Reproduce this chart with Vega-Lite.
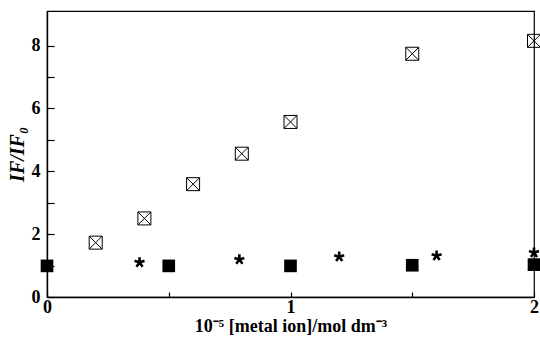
{
  "$schema": "https://vega.github.io/schema/vega-lite/v6.json",
  "autosize": "none",
  "padding": {"left": 47, "top": 11, "right": 6, "bottom": 40},
  "width": 487,
  "height": 286,
  "background": "white",
  "config": {
    "view": {"stroke": "black", "strokeWidth": 1.2},
    "axis": {
      "grid": false,
      "domainColor": "black",
      "domainWidth": 1.4,
      "tickColor": "black",
      "tickWidth": 1.2,
      "labelFont": "Liberation Serif",
      "labelFontWeight": "bold",
      "labelFontSize": 18,
      "labelColor": "black",
      "titleFont": "Liberation Serif",
      "titleFontWeight": "bold",
      "titleColor": "black"
    }
  },
  "data": {
    "values": [
      {"series": "A", "x": 0.2, "y": 1.73},
      {"series": "A", "x": 0.4, "y": 2.5},
      {"series": "A", "x": 0.6, "y": 3.59},
      {"series": "A", "x": 0.8, "y": 4.56},
      {"series": "A", "x": 1.0, "y": 5.57},
      {"series": "A", "x": 1.5, "y": 7.74},
      {"series": "A", "x": 2.0, "y": 8.15},
      {"series": "B", "x": 0.0, "y": 0.99},
      {"series": "B", "x": 0.5, "y": 0.99},
      {"series": "B", "x": 1.0, "y": 0.99},
      {"series": "B", "x": 1.5, "y": 1.01},
      {"series": "B", "x": 2.0, "y": 1.03},
      {"series": "C", "x": 0.38, "y": 1.1},
      {"series": "C", "x": 0.79, "y": 1.19},
      {"series": "C", "x": 1.2, "y": 1.28},
      {"series": "C", "x": 1.6, "y": 1.31},
      {"series": "C", "x": 2.0, "y": 1.41}
    ]
  },
  "encoding": {
    "x": {
      "field": "x", "type": "quantitative",
      "scale": {"domain": [0, 2], "nice": false, "zero": false},
      "axis": {
        "title": "10⁻⁵ [metal ion]/mol dm⁻³",
        "titleFontSize": 18,
        "titlePadding": 1,
        "values": [0, 0.5, 1, 1.5, 2],
        "format": "~g",
        "labelExpr": "datum.value % 1 === 0 ? datum.label : ''",
        "tickSize": -5,
        "labelPadding": 6,
        "labelFlush": false
      }
    },
    "y": {
      "field": "y", "type": "quantitative",
      "scale": {"domain": [0, 9.1], "nice": false, "zero": false},
      "axis": {
        "title": "IF/IF₀",
        "titleFontSize": 20,
        "titleFontStyle": "italic",
        "titlePadding": 4,
        "values": [0, 1, 2, 3, 4, 5, 6, 7, 8],
        "labelExpr": "datum.value % 2 === 0 ? datum.label : ''",
        "tickSize": -7,
        "labelPadding": 14
      }
    }
  },
  "layer": [
    {
      "transform": [{"filter": "datum.series === 'A'"}],
      "mark": {
        "type": "point",
        "shape": "M-1,-1H1V1H-1Z M-1,-1L1,1 M-1,1L1,-1",
        "size": 169,
        "filled": false,
        "color": "black",
        "strokeWidth": 1,
        "opacity": 1
      }
    },
    {
      "transform": [{"filter": "datum.series === 'B'"}],
      "mark": {
        "type": "point",
        "shape": "square",
        "size": 160,
        "filled": true,
        "color": "black",
        "opacity": 1
      }
    },
    {
      "transform": [{"filter": "datum.series === 'C'"}],
      "mark": {
        "type": "point",
        "shape": "M0,0L0,-1M0,0L0.95,-0.31M0,0L-0.95,-0.31M0,0L0.59,0.81M0,0L-0.59,0.81",
        "size": 110,
        "filled": false,
        "color": "black",
        "strokeWidth": 2.6,
        "opacity": 1
      }
    }
  ]
}
